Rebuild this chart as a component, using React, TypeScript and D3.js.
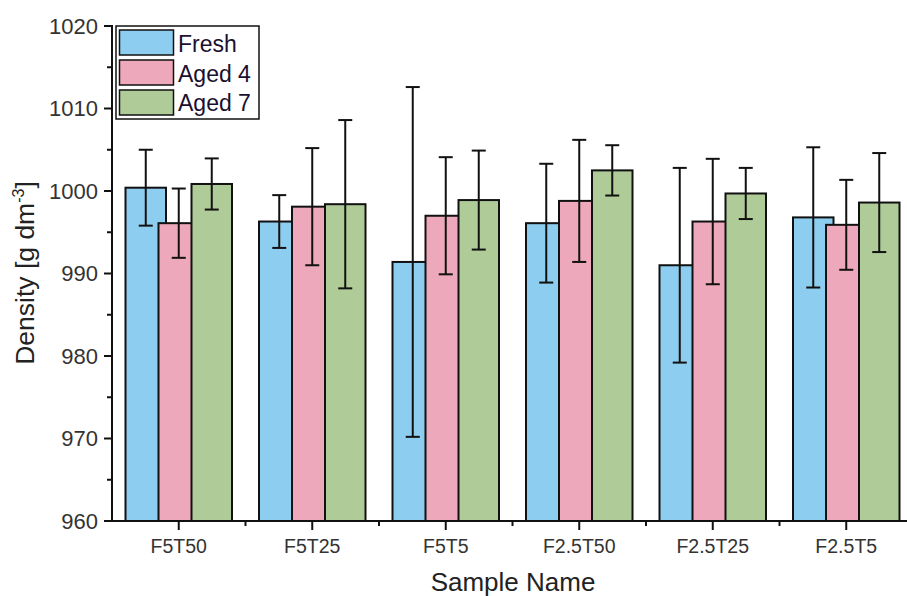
import React from "react";
import * as d3 from "d3";

const categories = ["F5T50", "F5T25", "F5T5", "F2.5T50", "F2.5T25", "F2.5T5"];
const seriesNames = ["Fresh", "Aged 4", "Aged 7"];
const freshMean = [1000.4, 996.3, 991.4, 996.1, 991.0, 996.8];
const freshErr = [4.6, 3.2, 21.2, 7.2, 11.8, 8.5];
const aged4Mean = [996.1, 998.1, 997.0, 998.8, 996.3, 995.9];
const aged4Err = [4.2, 7.1, 7.1, 7.4, 7.6, 5.45];
const aged7Mean = [1000.85, 998.4, 998.9, 1002.5, 999.7, 998.6];
const aged7Err = [3.1, 10.2, 6.0, 3.05, 3.1, 6.0];
const seriesColors = ["#8dcdf0", "#eda8bb", "#afcb98"];
const yTicks = [960, 970, 980, 990, 1000, 1010, 1020];
const yMinorTicks = [965, 975, 985, 995, 1005, 1015];

const W = 907;
const H = 596;
const left = 112;
const bottom = 521;
const top = 26;

export default function App() {
  const means = [freshMean, aged4Mean, aged7Mean];
  const errs = [freshErr, aged4Err, aged7Err];
  const x = d3.scaleBand<string>().domain(categories).range([left, left + 6 * 133.5]).padding(0);
  const off = d3.scalePoint<string>().domain(seriesNames).range([-33, 33]);
  const y = d3.scaleLinear().domain([960, 1020]).range([bottom, top]);
  const barW = 40.5;
  const capW = 14;
  const font = "Arial, 'Liberation Sans', sans-serif";
  const boundaries = categories.slice(1).map((c) => x(c)!);

  return (
    <svg width={W} height={H} style={{ position: "absolute", left: 0, top: 0, background: "#fff" }} fontFamily={font}>
      {seriesNames.map((s, si) => (
        <g key={s}>
          {categories.map((c, ci) => {
            const cx = x(c)! + x.bandwidth() / 2 + off(s)!;
            const v = means[si][ci];
            const e = errs[si][ci];
            return (
              <g key={c}>
                <rect x={cx - barW / 2} y={y(v)} width={barW} height={bottom - y(v)} fill={seriesColors[si]} stroke="#111" strokeWidth={2} />
                <line x1={cx} x2={cx} y1={y(v + e)} y2={y(v - e)} stroke="#111" strokeWidth={2} />
                <line x1={cx - capW / 2} x2={cx + capW / 2} y1={y(v + e)} y2={y(v + e)} stroke="#111" strokeWidth={2} />
                <line x1={cx - capW / 2} x2={cx + capW / 2} y1={y(v - e)} y2={y(v - e)} stroke="#111" strokeWidth={2} />
              </g>
            );
          })}
        </g>
      ))}
      {/* y axis */}
      <line x1={left} x2={left} y1={top - 1} y2={bottom + 1} stroke="#111" strokeWidth={2} />
      {yTicks.map((t) => (
        <g key={t}>
          <line x1={left - 8} x2={left} y1={y(t)} y2={y(t)} stroke="#111" strokeWidth={2} />
          <text x={98} y={y(t)} dy="0.36em" textAnchor="end" fontSize={22} fill="#333">{t}</text>
        </g>
      ))}
      {yMinorTicks.map((t) => (
        <line key={t} x1={left - 5} x2={left} y1={y(t)} y2={y(t)} stroke="#111" strokeWidth={2} />
      ))}
      {/* x axis */}
      <line x1={left - 1} x2={W} y1={bottom} y2={bottom} stroke="#111" strokeWidth={2} />
      {categories.map((c) => {
        const cx = x(c)! + x.bandwidth() / 2;
        return (
          <g key={c}>
            <line x1={cx} x2={cx} y1={bottom} y2={bottom + 9} stroke="#111" strokeWidth={2} />
            <text x={cx} y={553} textAnchor="middle" fontSize={19.5} fill="#333">{c}</text>
          </g>
        );
      })}
      {boundaries.map((b, i) => (
        <line key={i} x1={b} x2={b} y1={bottom} y2={bottom + 5} stroke="#111" strokeWidth={2} />
      ))}
      <text x={513} y={591} textAnchor="middle" fontSize={26} fill="#222">Sample Name</text>
      <text transform="translate(34,273) rotate(-90)" textAnchor="middle" fontSize={26.5} fill="#222">
        Density [g dm<tspan dy={-10} fontSize={16}>-3</tspan><tspan dy={10}>]</tspan>
      </text>
      {/* legend */}
      <rect x={116} y={26} width={143} height={93} fill="#fff" stroke="#111" strokeWidth={1.5} />
      {seriesNames.map((s, i) => (
        <g key={s}>
          <rect x={119.5} y={30 + i * 30} width={54} height={25} fill={seriesColors[i]} stroke="#111" strokeWidth={1.5} />
          <text x={178} y={52 + i * 29.5} fontSize={23} fill="#1a1030">{s}</text>
        </g>
      ))}
    </svg>
  );
}
